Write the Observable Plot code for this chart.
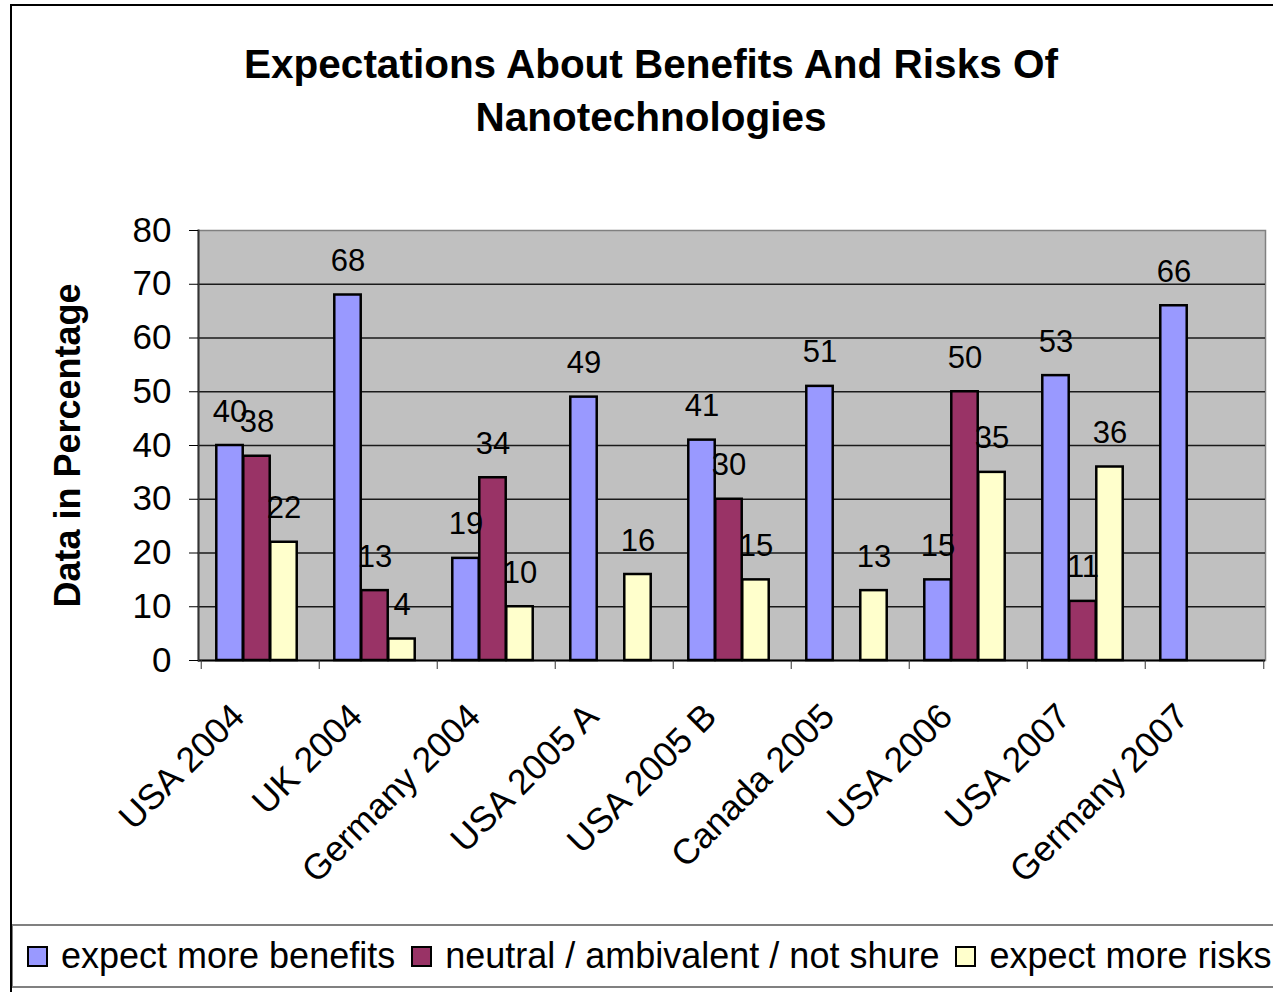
<!DOCTYPE html>
<html>
<head>
<meta charset="utf-8">
<script src="https://cdn.jsdelivr.net/npm/d3@7"></script>
<script src="https://cdn.jsdelivr.net/npm/@observablehq/plot@0.6"></script>
<style>
  html, body { margin: 0; padding: 0; background: #fff; }
  #page { position: relative; width: 1273px; height: 992px; overflow: hidden; font-family: "Liberation Sans", Arial, sans-serif; }
  #outer { position: absolute; left: 10px; top: 4px; width: 1300px; height: 1000px; border-left: 2px solid #000; border-top: 2px solid #000; }
  #title { position: absolute; left: 0; top: 38px; width: 1302px; text-align: center; font-weight: bold; font-size: 40.5px; line-height: 53px; color: #000; }
  #chart { position: absolute; left: 0; top: 170px; }
  #legend { position: absolute; left: 12px; top: 924px; width: 1300px; height: 60px; border-top: 2px solid #808080; border-bottom: 2px solid #808080; border-left: 1px solid #808080; display: flex; align-items: center; font-size: 36px; color: #000; white-space: nowrap; }
  .item { display: flex; align-items: center; margin-left: 16px; }
  .item:first-child { margin-left: 14px; }
  .sw { width: 17px; height: 17px; border: 2px solid #000; margin-right: 13px; }
  [aria-label="y-axis label"] { font-weight: bold; font-size: 36px; }
</style>
</head>
<body>
<div id="page">
  <div id="outer"></div>
  <div id="title">Expectations About Benefits And Risks Of<br>Nanotechnologies</div>
  <div id="chart"></div>
  <div id="legend"></div>
</div>
<script>
const categories = ["USA 2004", "UK 2004", "Germany 2004", "USA 2005 A", "USA 2005 B", "Canada 2005", "USA 2006", "USA 2007", "Germany 2007"];
const seriesNames = ["expect more benefits", "neutral / ambivalent / not shure", "expect more risks"];
const benefits = [40, 68, 19, 49, 41, 51, 15, 53, 66];
const neutral = [38, 13, 34, null, 30, null, 50, 11, null];
const risks = [22, 4, 10, 16, 15, 13, 35, 36, null];
const colors = ["#9999FF", "#993366", "#FFFFCC"];
const yTicks = [0, 10, 20, 30, 40, 50, 60, 70, 80];

const seriesValues = [benefits, neutral, risks];
const rows = seriesValues.map((vals, s) =>
  categories.map((c, i) => ({cat: c, series: seriesNames[s], value: vals[i]})).filter(d => d.value != null)
);

const width = 1273, height = 750;
const marginLeft = 198, marginRight = 8, marginTop = 60, marginBottom = 260;
const step = (width - marginLeft - marginRight) / categories.length;
const barW = 27;
const inset = (step - barW) / 2;
const offsets = [-30.5, -3.5, 23.5];

const marks = [
  Plot.frame({fill: "#C0C0C0", stroke: "#808080", strokeWidth: 1.5}),
  Plot.gridY({ticks: yTicks.slice(1, -1), stroke: "#1a1a1a", strokeOpacity: 1, strokeWidth: 1.5}),
  ...rows.map((data, s) => Plot.barY(data, {
    x: "cat", y: "value", fill: colors[s], stroke: "#000", strokeWidth: 2.5,
    insetLeft: inset, insetRight: inset, dx: offsets[s]
  })),
  Plot.ruleY([0], {stroke: "#000", strokeWidth: 2}),
  Plot.frame({anchor: "left", stroke: "#333", strokeWidth: 2}),
  ...rows.map((data, s) => Plot.text(data, {
    x: "cat", y: "value", text: d => String(d.value), dx: offsets[s], dy: -24,
    lineAnchor: "bottom", fontSize: 31, fill: "#000"
  })),
  Plot.axisY({ticks: yTicks, tickSize: 9, tickPadding: 18, fontSize: 35, label: "Data in Percentage", labelAnchor: "center", labelOffset: 144, labelArrow: "none", stroke: "#000"}),
  Plot.axisX({ticks: categories, tickSize: 9, tickFormat: () => "", dx: -step / 2, label: null, stroke: "#333"}),
  Plot.axisX({ticks: categories.slice(-1), tickSize: 9, tickFormat: () => "", dx: step / 2, label: null, stroke: "#333"}),
  Plot.axisX({ticks: categories, tickSize: 0, tickPadding: 45, tickRotate: -45, fontSize: 35.5, label: null, dx: -22, dy: 5})
];

const chart = Plot.plot({
  width, height, marginLeft, marginRight, marginTop, marginBottom,
  style: {fontFamily: "'Liberation Sans', Arial, sans-serif", fontSize: "35px", color: "#000", background: "transparent", overflow: "visible"},
  x: {type: "band", domain: categories, padding: 0},
  y: {domain: [0, 80], ticks: yTicks},
  marks
});
document.getElementById("chart").appendChild(chart);

const legend = document.getElementById("legend");
seriesNames.forEach((name, s) => {
  const item = document.createElement("div");
  item.className = "item";
  const sw = document.createElement("div");
  sw.className = "sw";
  sw.style.background = colors[s];
  const label = document.createElement("span");
  label.textContent = name;
  item.appendChild(sw);
  item.appendChild(label);
  legend.appendChild(item);
});
</script>
</body>
</html>
